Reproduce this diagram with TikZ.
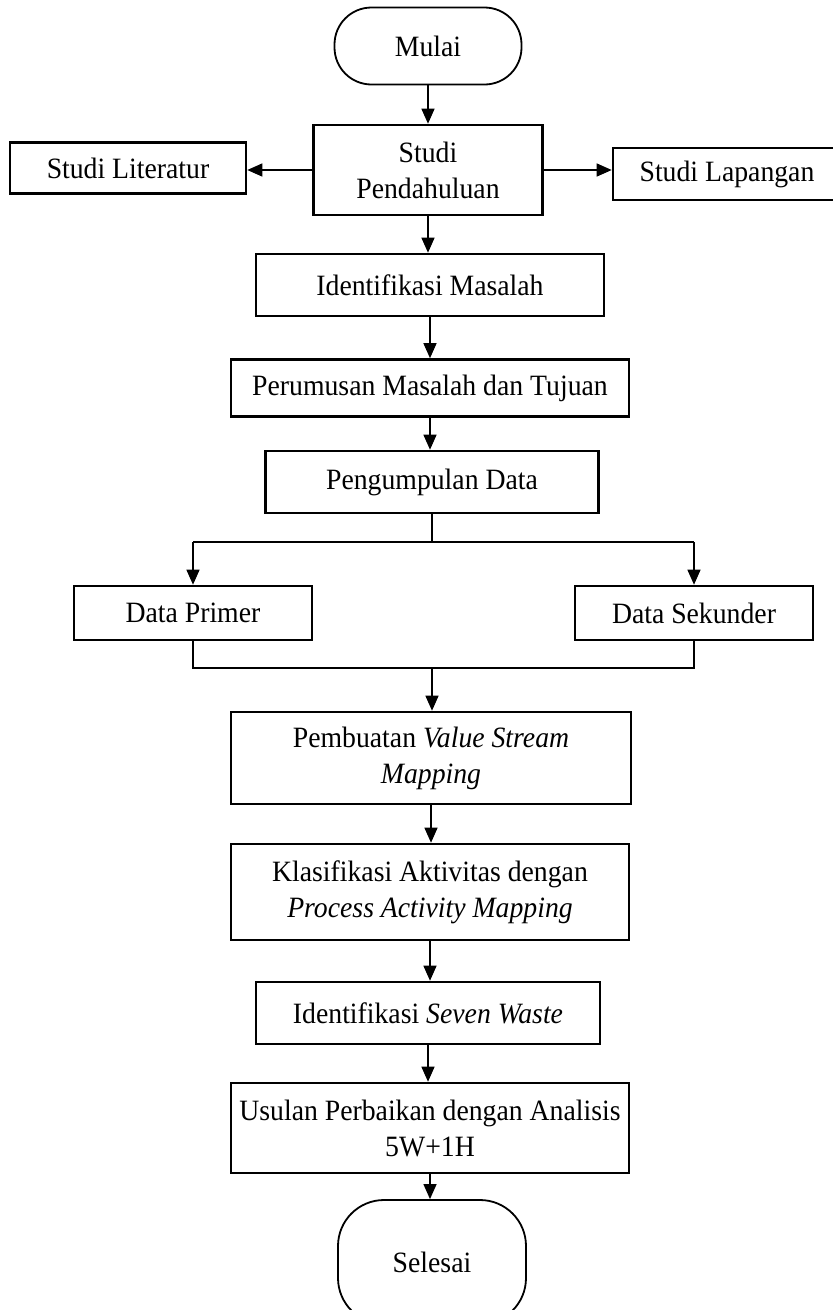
\documentclass[tikz,border=0pt]{standalone}
\usepackage{fontspec}
\setmainfont{Liberation Serif}[FakeStretch=0.94]
\usetikzlibrary{arrows.meta}

\tikzset{
  x=1pt, y=-1pt,
  every node/.style={font=\fontsize{29.5}{36}\selectfont, align=center, inner sep=0pt},
  box/.style={draw, line width=2.6pt, rectangle},
  term/.style={draw, line width=1.8pt, rectangle},
  link/.style={line width=1.3pt, -{Triangle[length=15pt,width=13pt]}},
  wire/.style={line width=1.3pt}
}

\begin{document}
\begin{tikzpicture}
\clip (0,0) rectangle (833,1310);
\useasboundingbox (0,0) rectangle (833,1310);

% start / end terminals
\node[term, rounded corners=37pt, minimum width=187pt, minimum height=77pt] (start) at (428,46) {Mulai};
\node[term, rounded corners=46pt, minimum width=188pt, minimum height=124pt] (stop) at (432,1262) {};
\node (stoptext) at (432,1262) {Selesai};

% preliminary study and its two branches
\node[box, minimum width=229pt, minimum height=90pt] (pend) at (428,170) {Studi\\Pendahuluan};
\node[box, minimum width=236pt, minimum height=51pt] (lit) at (128,168) {Studi Literatur};
\node[box, minimum width=228pt, minimum height=52pt] (lap) at (727,174) {Studi Lapangan};

% main sequence
\node[box, minimum width=348pt, minimum height=62pt] (ident) at (430,285) {Identifikasi Masalah};
\node[box, minimum width=398pt, minimum height=57pt] (rumus) at (430,388) {Perumusan Masalah dan Tujuan};
\node[box, minimum width=333pt, minimum height=62pt] (kumpul) at (432,482) {Pengumpulan Data};

\node[box, minimum width=238pt, minimum height=54pt] (primer) at (193,613) {Data Primer};
\node[box, minimum width=238pt, minimum height=54pt] (sekunder) at (694,613) {Data Sekunder};

\node[box, minimum width=400pt, minimum height=92pt] (vsm) at (431,758) {Pembuatan \textit{Value Stream}\\\textit{Mapping}};
\node[box, minimum width=398pt, minimum height=96pt] (pam) at (430,892) {Klasifikasi Aktivitas dengan\\\textit{Process Activity Mapping}};
\node[box, minimum width=344pt, minimum height=62pt] (waste) at (428,1013) {Identifikasi \textit{Seven Waste}};
\node[box, minimum width=398pt, minimum height=90pt] (usul) at (430,1128) {Usulan Perbaikan dengan Analisis\\5W+1H};

% split and merge points
\coordinate (split) at (432,542);
\coordinate (merge) at (432,668);

% connectors
\draw[link] (start.south) -- (pend.north);
\draw[link] (pend.west) -- (pend.west -| lit.east);
\draw[link] (pend.east) -- (pend.east -| lap.west);
\draw[link] (pend.south) -- (ident.north -| pend.south);
\draw[link] (ident.south) -- (rumus.north);
\draw[link] (rumus.south) -- (kumpul.north -| rumus.south);
\draw[wire] (kumpul.south) -- (split);
\draw[wire] (split -| primer.north) -- (split -| sekunder.north);
\draw[link] (split -| primer.north) -- (primer.north);
\draw[link] (split -| sekunder.north) -- (sekunder.north);
\draw[wire] (primer.south) |- (merge) -| (sekunder.south);
\draw[link] (merge) -- (vsm.north -| merge);
\draw[link] (vsm.south) -- (pam.north -| vsm.south);
\draw[link] (pam.south) -- (waste.north -| pam.south);
\draw[link] (waste.south) -- (usul.north -| waste.south);
\draw[link] (usul.south) -- (stop.north -| usul.south);
\end{tikzpicture}
\end{document}
